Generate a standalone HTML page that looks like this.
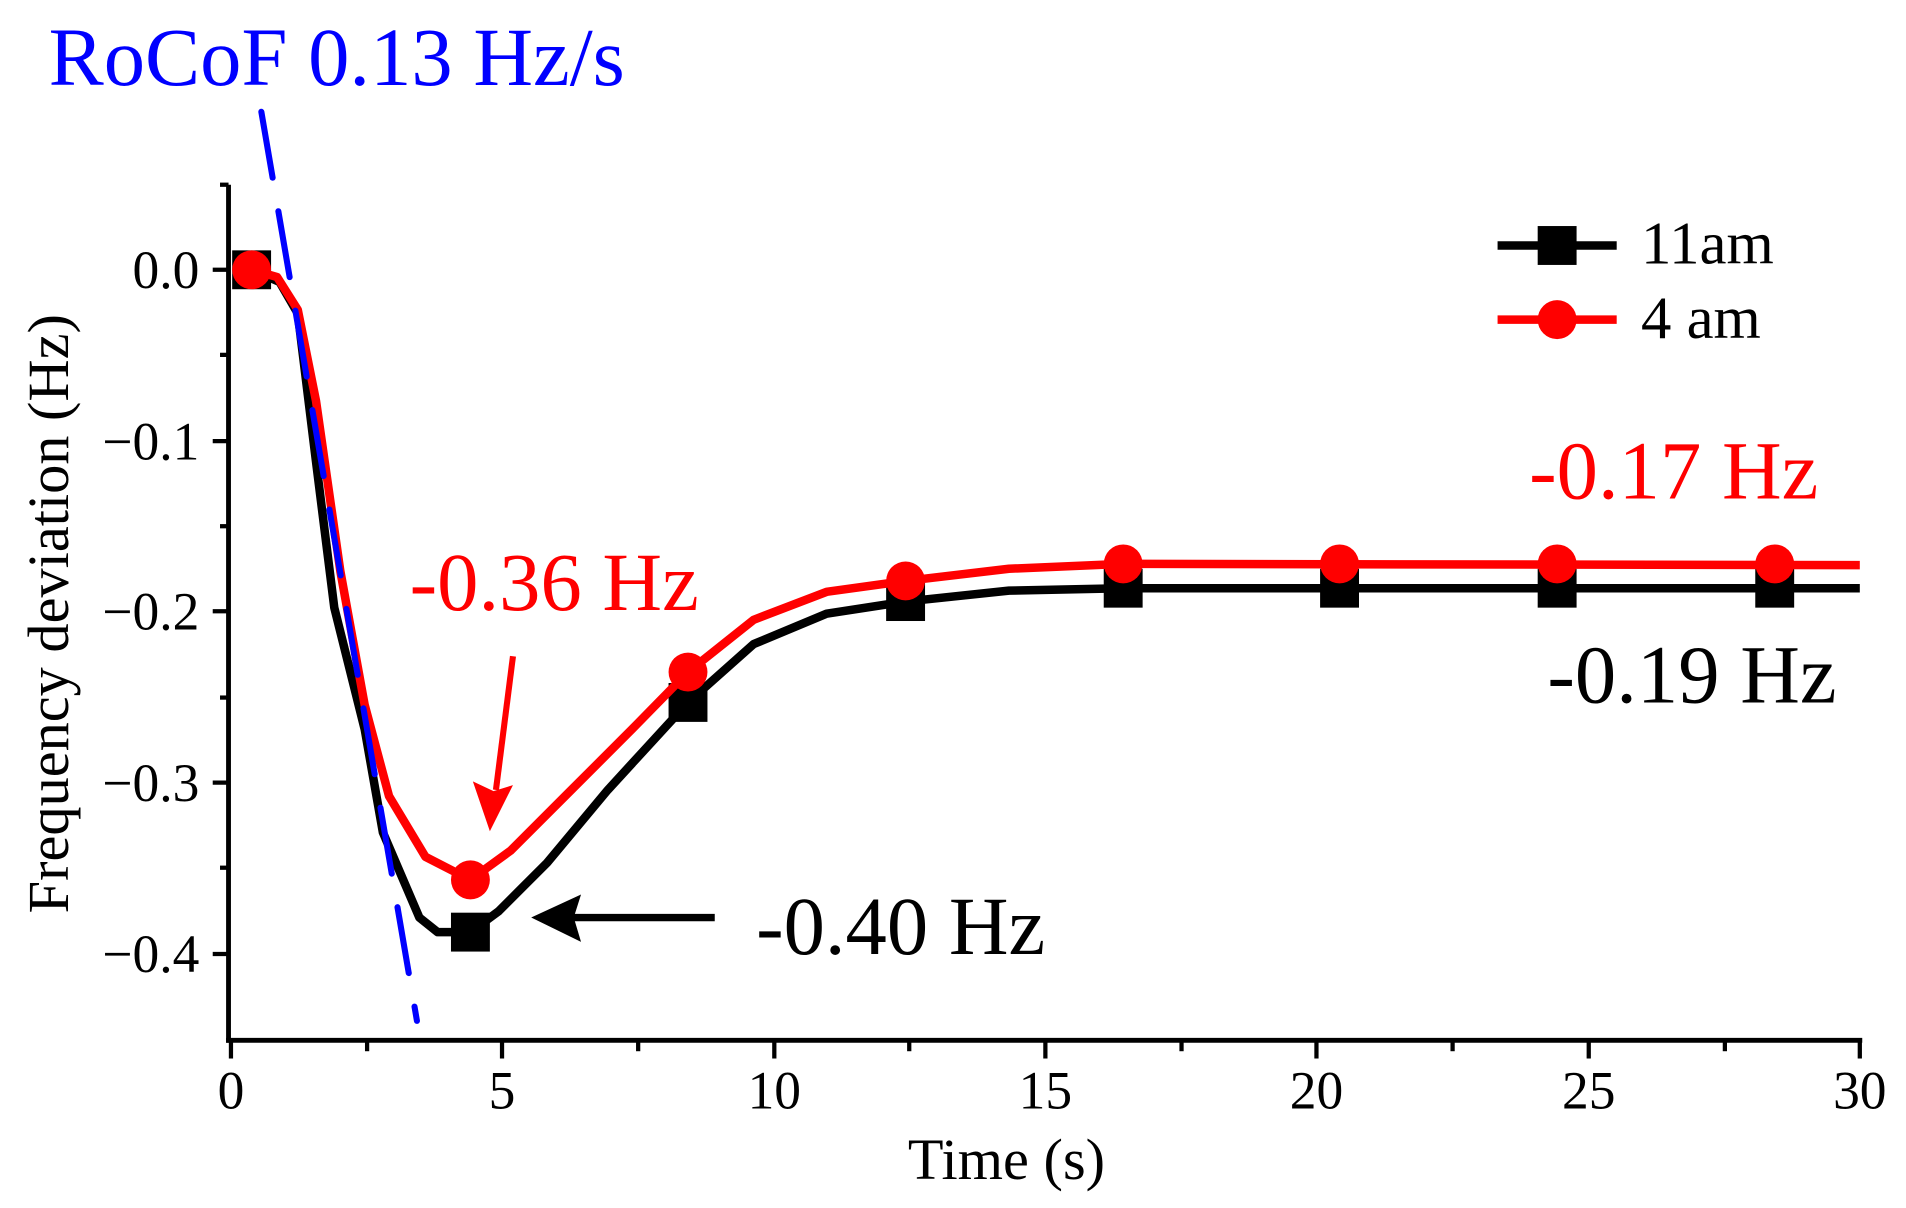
<!DOCTYPE html>
<html><head><style>html,body{margin:0;padding:0;background:#fff}svg{display:block}</style></head><body>
<svg width="1906" height="1208" viewBox="0 0 1568 994" preserveAspectRatio="none" xmlns="http://www.w3.org/2000/svg" font-family="Liberation Serif, serif">
<rect width="1568" height="994" fill="#fff"/>
<g stroke="#000" stroke-width="4" fill="none">
<line x1="188" y1="152" x2="188" y2="858"/>
<line x1="186" y1="856" x2="1532" y2="856"/>
<g stroke-width="3.5">
<line x1="175" y1="222" x2="188" y2="222"/><line x1="175" y1="363" x2="188" y2="363"/><line x1="175" y1="503" x2="188" y2="503"/><line x1="175" y1="644" x2="188" y2="644"/><line x1="175" y1="785" x2="188" y2="785"/>
<line x1="181" y1="152" x2="188" y2="152"/><line x1="181" y1="292" x2="188" y2="292"/><line x1="181" y1="433" x2="188" y2="433"/><line x1="181" y1="574" x2="188" y2="574"/><line x1="181" y1="714" x2="188" y2="714"/>
<line x1="190" y1="856" x2="190" y2="871"/><line x1="413" y1="856" x2="413" y2="871"/><line x1="637" y1="856" x2="637" y2="871"/><line x1="860" y1="856" x2="860" y2="871"/><line x1="1083" y1="856" x2="1083" y2="871"/><line x1="1307" y1="856" x2="1307" y2="871"/><line x1="1530" y1="856" x2="1530" y2="871"/>
<line x1="302" y1="856" x2="302" y2="865"/><line x1="525" y1="856" x2="525" y2="865"/><line x1="748" y1="856" x2="748" y2="865"/><line x1="972" y1="856" x2="972" y2="865"/><line x1="1195" y1="856" x2="1195" y2="865"/><line x1="1419" y1="856" x2="1419" y2="865"/>
</g></g>
<g font-size="44" text-anchor="end" fill="#000">
<text x="164" y="237">0.0</text><text x="164" y="378">−0.1</text><text x="164" y="518">−0.2</text><text x="164" y="659">−0.3</text><text x="164" y="800">−0.4</text>
</g>
<g font-size="44" text-anchor="middle" fill="#000">
<text x="190" y="912">0</text><text x="413" y="912">5</text><text x="637" y="912">10</text><text x="860" y="912">15</text><text x="1083" y="912">20</text><text x="1307" y="912">25</text><text x="1530" y="912">30</text>
</g>
<text x="828" y="970" font-size="48" text-anchor="middle">Time (s)</text>
<text transform="translate(56,505) rotate(-90)" font-size="48" text-anchor="middle">Frequency deviation (Hz)</text>
<polyline fill="none" stroke="#000" stroke-width="7" stroke-linejoin="round" points="207,222 230,232 245,258 260,380 275,500 300,600 315,685 345,755 360,767 387,767 410,750 450,710 500,650 566,578 620,530 680,505 745,495 830,486 924,484 1530,484"/>
<g fill="#000"><rect x="371" y="751" width="32" height="32"/><rect x="550" y="562" width="32" height="32"/><rect x="729" y="479" width="32" height="32"/><rect x="908" y="468" width="32" height="32"/><rect x="1086" y="468" width="32" height="32"/><rect x="1265" y="468" width="32" height="32"/><rect x="1444" y="468" width="32" height="32"/><rect x="191" y="206" width="32" height="32"/></g>
<polyline fill="none" stroke="#f00" stroke-width="7" stroke-linejoin="round" points="207,222 228,228 245,255 260,330 280,470 300,580 320,655 350,705 387,724 420,700 470,650 520,600 566,553 620,510 680,487 745,478 830,468 924,464 1530,465"/>
<g fill="#f00"><circle cx="207" cy="222" r="16"/><circle cx="387" cy="724" r="16"/><circle cx="566" cy="553" r="16"/><circle cx="745" cy="478" r="16"/><circle cx="924" cy="464" r="16"/><circle cx="1102" cy="464" r="16"/><circle cx="1281" cy="464" r="16"/><circle cx="1460" cy="464" r="16"/></g>
<line x1="215" y1="92" x2="343" y2="840" stroke="#00f" stroke-width="5" stroke-linecap="round" stroke-dasharray="55,28"/>
<line x1="1232" y1="202" x2="1330" y2="202" stroke="#000" stroke-width="7"/><rect x="1265" y="186" width="32" height="32" fill="#000"/>
<line x1="1232" y1="263" x2="1330" y2="263" stroke="#f00" stroke-width="7"/><circle cx="1281" cy="263" r="16" fill="#f00"/>
<text x="1350" y="217" font-size="50">11am</text><text x="1350" y="278" font-size="50">4 am</text>
<text x="40" y="70" font-size="68" fill="#00f">RoCoF 0.13 Hz/s</text>
<text x="337" y="502" font-size="68" fill="#f00">-0.36 Hz</text>
<text x="1258" y="410" font-size="68" fill="#f00">-0.17 Hz</text>
<text x="1273" y="578" font-size="68" fill="#000">-0.19 Hz</text>
<text x="622" y="785" font-size="68" fill="#000">-0.40 Hz</text>
<line x1="588" y1="755" x2="470" y2="755" stroke="#000" stroke-width="6"/>
<polygon points="437,755 478,736 472,755 478,775" fill="#000"/>
<line x1="422" y1="540" x2="408" y2="650" stroke="#f00" stroke-width="5"/>
<polygon points="403,684 389,643 406,651 422,646" fill="#f00"/>
</svg>
</body></html>
